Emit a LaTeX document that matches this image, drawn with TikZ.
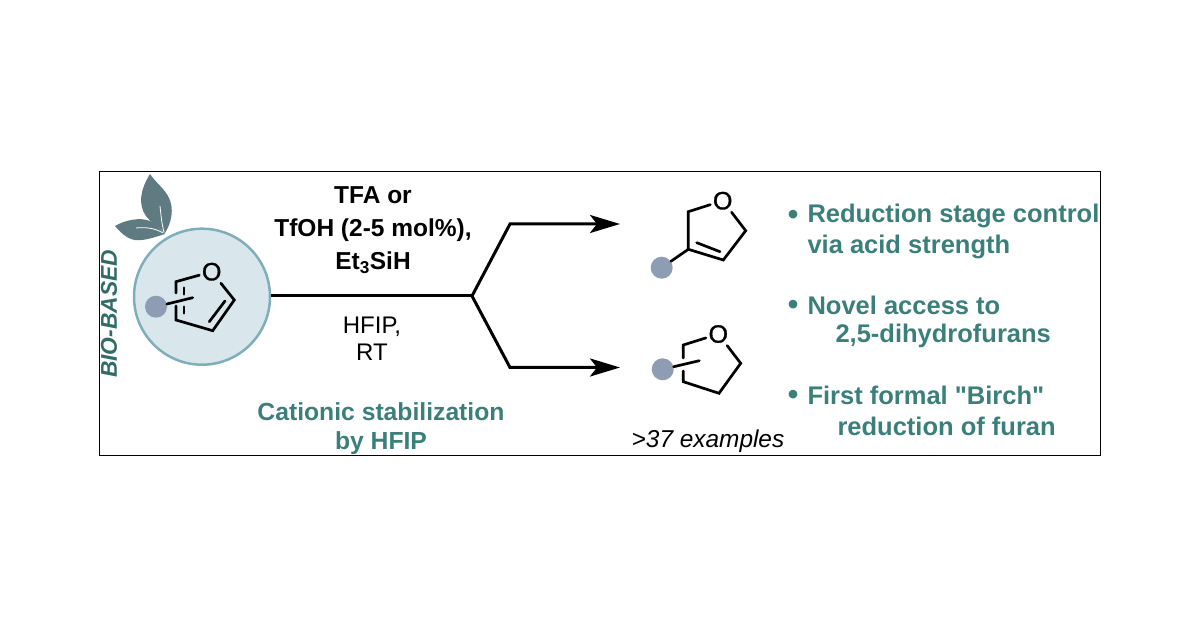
\documentclass[tikz,border=0pt]{standalone}
\usepackage{fontspec}
\setmainfont{Liberation Sans}
\newfontfamily\plainquote{Liberation Sans}
\newfontfamily\atomfont[FakeBold=1.2]{Liberation Sans}
\usetikzlibrary{arrows.meta}
\definecolor{tealtext}{HTML}{3A7F7A}
\definecolor{leafgrey}{HTML}{5F7A80}
\definecolor{discfill}{HTML}{D9E7EC}
\definecolor{discline}{HTML}{7FAEBB}
\definecolor{dotgrey}{HTML}{8E9DB3}
\tikzset{
  bond/.style={draw=black, line width=2.7pt, line cap=round, line join=miter},
  reaction/.style={draw=black, line width=3pt, line join=miter},
  atom/.style={inner sep=2.5pt, font=\atomfont\fontsize{25}{25}\selectfont},
  rgroup/.style={circle, fill=dotgrey, minimum size=22pt, inner sep=0pt},
  reagent/.style={align=center, font=\fontsize{24}{27}\selectfont},
  bluetext/.style={text=tealtext, align=left, anchor=west, font=\bfseries\fontsize{25.5}{31}\selectfont},
  dotmark/.style={text=tealtext, font=\bfseries\fontsize{30}{31}\selectfont},
}
\begin{document}
\begin{tikzpicture}[x=1pt, y=-1pt]
  \useasboundingbox (0,0) rectangle (1200,628);

  % Frame
  \node[draw=black, line width=1pt, minimum width=1001pt, minimum height=283pt, inner sep=0pt] (frame) at (600,313.5) {};

  % Leaves
  \fill[leafgrey] (150,174) .. controls (140,190) and (138,205) .. (146,216) .. controls (152,224) and (160,228) .. (165,233) .. controls (172,222) and (174,208) .. (169,198) .. controls (165,189) and (156,183) .. (150,174) -- cycle;
  \fill[leafgrey] (115,226) .. controls (125,220) and (140,217) .. (150,221) .. controls (156,224) and (160,229) .. (165,234) .. controls (155,237) and (145,241) .. (135,240) .. controls (127,239) and (120,232) .. (115,226) -- cycle;
  \draw[white, line width=.8pt] (160,206) .. controls (161,216) and (162,225) .. (164,232);
  \draw[white, line width=.8pt] (136,228) .. controls (145,227) and (155,228) .. (163,233);

  % Disc
  \node[circle, draw=discline, fill=discfill, line width=2.5pt, minimum size=136pt, inner sep=0pt] (disc) at (202,296.7) {};

  % Furan
  \node[atom] (fo) at (211.7,271.7) {O};
  \coordinate (fa) at (176,281.7);
  \coordinate (fb) at (176,320);
  \coordinate (fc) at (212.7,330.7);
  \coordinate (fd) at (234.3,300);
  \coordinate (fg) at (176,293);
  \coordinate (fh) at (176,306);
  \coordinate (fi) at (192.7,297.7);
  \node[rgroup] (fr) at (156,306.7) {};
  \draw[bond] (fo) -- (fa) -- (fg);
  \draw[bond] (fh) -- (fb) -- (fc) -- (fd) -- (fo);
  \draw[bond] (fr) -- (fi);
  \coordinate (fj) at (209.3,321.7);
  \coordinate (fk) at (225,301);
  \draw[bond] (fj) -- (fk);
  \coordinate (fl) at (184,287.7);
  \coordinate (fm) at (184,294.3);
  \coordinate (fn) at (184,306.7);
  \coordinate (fp) at (184,313.3);
  \draw[bond] (fl) -- (fm);
  \draw[bond] (fn) -- (fp);

  % Branched arrow
  \coordinate (split) at (472,296);
  \coordinate (upbend) at (510,224);
  \coordinate (upend) at (620,224);
  \coordinate (lowbend) at (510,367.5);
  \coordinate (lowend) at (620,367.5);
  \draw[reaction] (split -| disc.east) -- (split);
  \draw[reaction, -{Stealth[length=30pt, width=18pt, inset=7pt]}] (split) -- (upbend) -- (upend);
  \draw[reaction, -{Stealth[length=30pt, width=18pt, inset=7pt]}] (split) -- (lowbend) -- (lowend);

  % Dihydrofuran
  \node[atom] (do) at (722.7,200.7) {O};
  \coordinate (da) at (688.3,211.7);
  \coordinate (db) at (688.3,249.3);
  \coordinate (dc) at (723.3,260);
  \coordinate (dd) at (745.7,230.7);
  \node[rgroup] (dr) at (661.7,267.7) {};
  \draw[bond] (do) -- (da) -- (db) -- (dc) -- (dd) -- (do);
  \draw[bond] (dr) -- (db);
  \coordinate (de) at (696.7,242.7);
  \coordinate (df) at (720,251.7);
  \draw[bond] (de) -- (df);

  % Tetrahydrofuran
  \node[atom] (to) at (718.3,334) {O};
  \coordinate (ta) at (683.3,345);
  \coordinate (tb) at (683.3,381.7);
  \coordinate (tc) at (719,393.3);
  \coordinate (td) at (740.7,363.3);
  \coordinate (tg) at (683.3,358);
  \coordinate (th) at (683.3,371);
  \coordinate (ti) at (699.3,360.7);
  \node[rgroup] (tr) at (662.7,369.3) {};
  \draw[bond] (to) -- (ta) -- (tg);
  \draw[bond] (th) -- (tb) -- (tc) -- (td) -- (to);
  \draw[bond] (tr) -- (ti);

  % Labels
  \node[rotate=90, text=tealtext!85!black, font=\bfseries\itshape\fontsize{22.8}{22.8}\selectfont] (biobased) at (109,314) {BIO-BASED};
  \node[reagent, font=\bfseries\fontsize{24.5}{33}\selectfont] (reagents) at (373,230.5) {TFA or\\TfOH (2-5 mol\%),\\Et\textsubscript{3}SiH};
  \node[reagent] (solvent) at (372,339) {HFIP,\\RT};
  \node[reagent, text=tealtext, font=\bfseries\fontsize{24.7}{29}\selectfont] (cation) at (381,428.5) {Cationic stabilization\\by HFIP};
  \node[font=\itshape\fontsize{24.4}{24.4}\selectfont] (scope) at (708,441) {>37 examples};

  % Bullet points
  \node[dotmark] (dot1) at (793,217) {•};
  \node[dotmark] (dot2) at (793,307) {•};
  \node[dotmark] (dot3) at (793,397) {•};
  \node[bluetext] (text1) at (804,215.5) {Reduction stage control};
  \node[bluetext] (text1b) at (804,246.5) {via acid strength};
  \node[bluetext] (text2) at (804,305) {Novel access to};
  \node[bluetext] (text2b) at (832,336) {2,5-dihydrofurans};
  \node[bluetext] (text3) at (804,395) {First formal {\plainquote\bfseries"}Birch{\plainquote\bfseries"}};
  \node[bluetext] (text3b) at (834,426) {reduction of furan};
\end{tikzpicture}
\end{document}
